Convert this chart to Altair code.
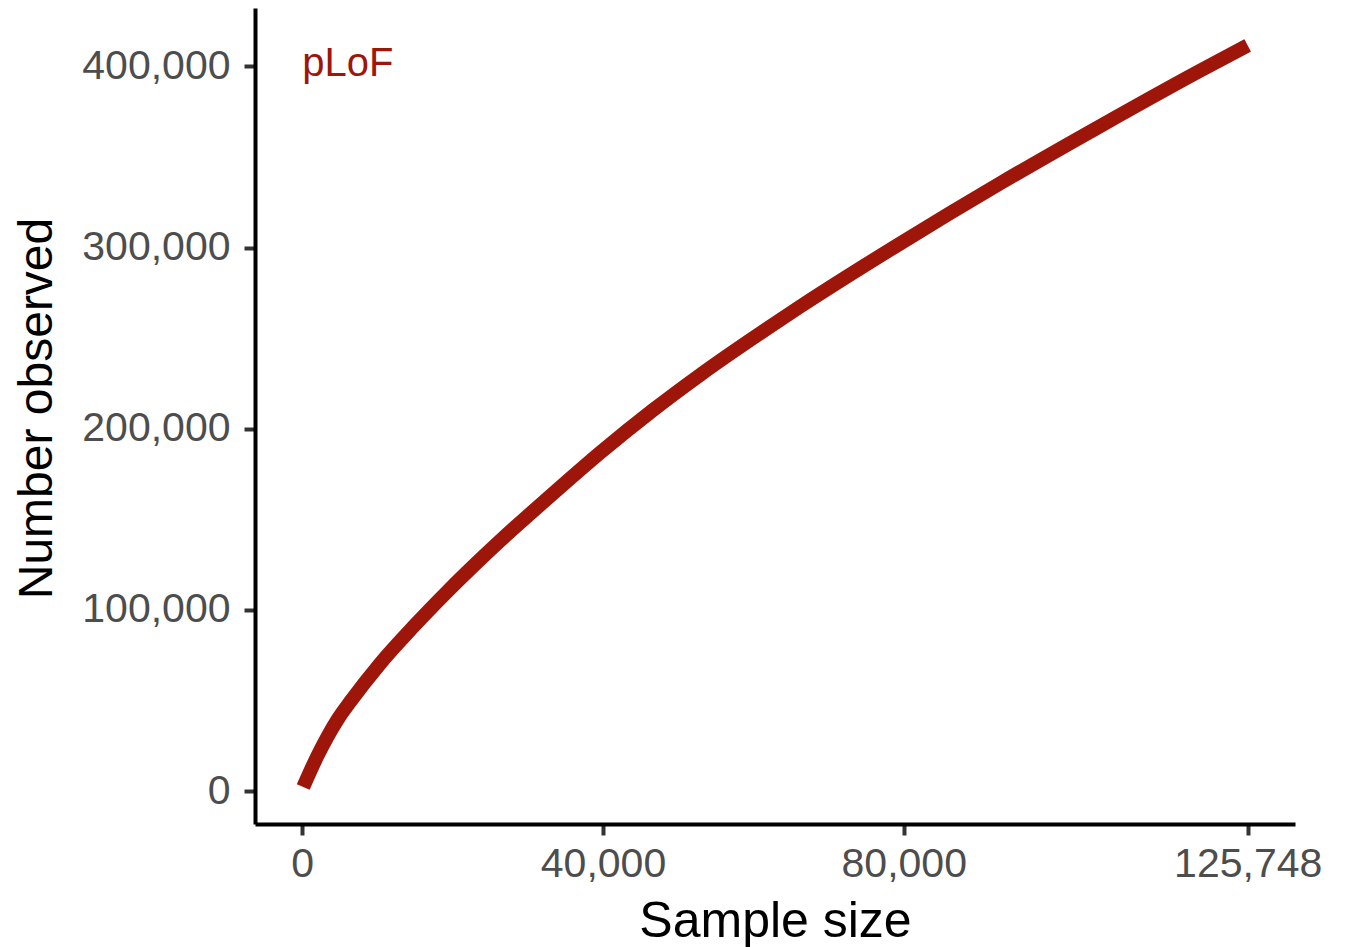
import altair as alt
import pandas as pd

sample_size = [130, 1995, 3325, 4800, 6384, 10374, 14763, 19285, 23673, 26333, 32983, 39633,
               46682, 52933, 61843, 66232, 79532, 92831, 106131, 119431, 125748]
number_observed = [2250, 19200, 29800, 40100, 49300, 70450, 90640, 110090, 127860, 138230, 162840,
                   186780, 210400, 229780, 255350, 267460, 302300, 335500, 367100, 397700, 411600]
x_ticks = [0, 40000, 80000, 125748]
y_ticks = [0, 100000, 200000, 300000, 400000]
label_text = ["pLoF"]

RED = "#9E150A"
FONT = "Liberation Sans"

df = pd.DataFrame({"x": sample_size, "y": number_observed})
lab = pd.DataFrame({"x": [0], "y": [400000], "t": label_text})

xscale = alt.Scale(domain=[-6287, 132035], nice=False, zero=False)
yscale = alt.Scale(domain=[-18195, 432265], nice=False, zero=False)

axis_common = dict(
    grid=False,
    domainColor="black",
    domainWidth=4,
    tickColor="#333333",
    tickWidth=4,
    tickSize=11,
    labelColor="#4D4D4D",
    labelFontSize=41,
    labelFont=FONT,
    titleFont=FONT,
    titleFontWeight="normal",
    titleColor="black",
    format=",d",
)

line = alt.Chart(df).mark_line(
    color=RED, strokeWidth=14, strokeCap="butt", strokeJoin="round", interpolate="monotone"
).encode(
    x=alt.X("x:Q", scale=xscale,
            axis=alt.Axis(values=x_ticks, title="Sample size", labelPadding=9,
                          titlePadding=12, titleFontSize=50, labelFlush=False,
                          labelOverlap=False, **axis_common)),
    y=alt.Y("y:Q", scale=yscale,
            axis=alt.Axis(values=y_ticks, title="Number observed", labelPadding=14,
                          titlePadding=20, titleFontSize=48, titleY=400,
                          labelOverlap=False, **axis_common)),
    order="x:Q",
)

text = alt.Chart(lab).mark_text(
    align="left", baseline="alphabetic", dy=10, fontSize=40, font=FONT, color=RED
).encode(x=alt.X("x:Q", scale=xscale), y=alt.Y("y:Q", scale=yscale), text="t:N")

chart = alt.layer(line, text).properties(
    width=1040,
    height=816,
    background="white",
    autosize=alt.AutoSizeParams(type="none"),
    padding={"left": 247, "top": 0, "right": 44, "bottom": 123},
).configure_view(stroke="transparent", strokeWidth=0)

chart.save("out.html", embed_options={"renderer": "svg", "actions": False})
